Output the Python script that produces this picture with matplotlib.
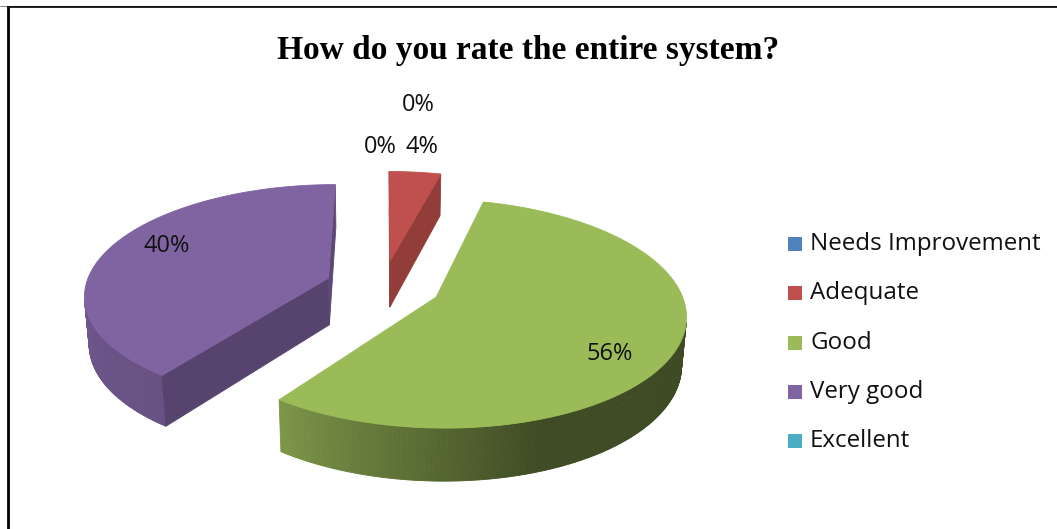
import numpy as np
import matplotlib
matplotlib.use("Agg")
import matplotlib.pyplot as plt
from matplotlib.patches import Polygon, Rectangle
from matplotlib.collections import PolyCollection
from matplotlib.colors import to_rgb

# ---------------- data ----------------
title = "How do you rate the entire system?"
categories = ["Needs Improvement", "Adequate", "Good", "Very good", "Excellent"]
values = [0, 4, 56, 40, 0]
colors = ["#4F81BD", "#C0504D", "#9BBB59", "#8064A2", "#4BACC6"]

# ---------------- layout / style ----------------
W, H_PX = 1057, 529
CX, CY = 383, 286          # pie centre (pixels)
A = 243                    # horizontal radius (pixels)
SIN_E = 0.448              # elevation
COS_E = np.sqrt(1 - SIN_E ** 2)
DR = 6.3                   # camera distance / radius
THICK = 0.22               # pie thickness / radius
RHO = 0.238                # explosion / radius
LABEL_POS = {0: (418, 105), 1: (422, 147), 2: (610, 354), 3: (167, 246), 4: (380, 147)}
FONT = "Open Sans"

fig = plt.figure(figsize=(W / 100, H_PX / 100), dpi=100)
ax = fig.add_axes([0, 0, 1, 1])
ax.set_xlim(0, W)
ax.set_ylim(H_PX, 0)
ax.axis("off")


def proj(X, Z, Y):
    X, Z, Y = np.asarray(X, float), np.asarray(Z, float), np.asarray(Y, float)
    depth = 1 + (Z * COS_E - Y * SIN_E) / DR
    sx = CX + A * X / depth
    sy = CY - A * (Z * SIN_E + Y * COS_E) / depth
    return np.column_stack([np.atleast_1d(sx), np.atleast_1d(sy)])


CAM = np.array([0.0, -DR * COS_E])


def visible(nang, px, pz):
    n = np.array([np.sin(np.radians(nang)), np.cos(np.radians(nang))])
    return n @ (CAM - np.array([px, pz])) > 0


def shade(rgb, f):
    return tuple(np.clip(np.array(rgb) * f, 0, 1))


def wall_shade(th):
    return np.interp(th % 360, [0, 160, 216, 270, 360], [0.40, 0.40, 0.80, 0.88, 0.88])


def cut_shade(nang):
    return np.interp(nang % 360, [0, 90, 104, 126, 270, 360], [0.7, 0.72, 0.76, 0.68, 0.85, 0.8])


total = sum(values)
slices = []
start = 0.0
for i, v in enumerate(values):
    span = 360.0 * v / total
    if v > 0:
        slices.append((i, start, start + span))
    start += span


def slice_depth(s):
    mid = np.radians((s[1] + s[2]) / 2)
    return RHO * np.cos(mid)


for i, t0, t1 in sorted(slices, key=slice_depth, reverse=True):
    base = to_rgb(colors[i])
    mid = np.radians((t0 + t1) / 2)
    ox, oz = RHO * np.sin(mid), RHO * np.cos(mid)
    n = max(3, int((t1 - t0) * 2))
    th = np.linspace(t0, t1, n)
    rx = ox + np.sin(np.radians(th))
    rz = oz + np.cos(np.radians(th))
    top = proj(rx, rz, np.zeros(n))
    bot = proj(rx, rz, -THICK * np.ones(n))
    # outer wall
    quads, qc = [], []
    for j in range(n - 1):
        tm = (th[j] + th[j + 1]) / 2
        pmx = ox + np.sin(np.radians(tm))
        pmz = oz + np.cos(np.radians(tm))
        if visible(tm, pmx, pmz):
            quads.append([top[j], top[j + 1], bot[j + 1], bot[j]])
            qc.append(shade(base, wall_shade(tm)))
    if quads:
        ax.add_collection(PolyCollection(quads, facecolors=qc, edgecolors=qc, linewidths=0.6))
    # cut faces
    c_top = proj([ox], [oz], [0])[0]
    c_bot = proj([ox], [oz], [-THICK])[0]
    for k, nang in ((0, t0 - 90), (-1, t1 + 90)):
        pmx = (ox + rx[k]) / 2
        pmz = (oz + rz[k]) / 2
        if visible(nang, pmx, pmz):
            col = shade(base, cut_shade(nang))
            ax.add_patch(Polygon([c_top, top[k], bot[k], c_bot], closed=True,
                                 facecolor=col, edgecolor=col, linewidth=0.6))
    # top face
    ax.add_patch(Polygon(np.vstack([c_top, top]), closed=True,
                         facecolor=base, edgecolor=base, linewidth=0.6))

# data labels
for i, v in enumerate(values):
    x, y = LABEL_POS[i]
    ax.text(x, y, f"{round(100 * v / total)}%", ha="center", va="center",
            fontsize=17, family=FONT, color="#111111")

# title
ax.text(528, 51, title, ha="center", va="center", fontsize=24, fontweight="bold",
        family="Liberation Serif", color="black")

# legend
for i, cat in enumerate(categories):
    y = 244 + i * 49.3
    ax.add_patch(Rectangle((788, y - 7), 14, 14, facecolor=colors[i], edgecolor="none"))
    ax.text(810, y, cat, ha="left", va="center", fontsize=17.4, family=FONT, color="#111111")

# frame
ax.plot([0, W], [5.5, 5.5], color="#888888", lw=0.8, solid_capstyle="butt")
ax.plot([7, W], [7.3, 7.3], color="black", lw=1.2, solid_capstyle="butt")
ax.plot([8, 8], [6.5, H_PX], color="black", lw=2.0, solid_capstyle="butt")

fig.savefig("out.png", dpi=100)
